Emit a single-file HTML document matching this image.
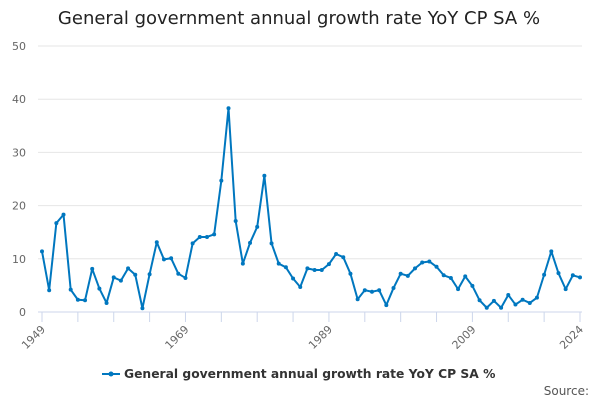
<!DOCTYPE html>
<html><head><meta charset="utf-8"><style>
body{margin:0;background:#fff;font-family:"DejaVu Sans",sans-serif}
svg text{font-family:"DejaVu Sans",sans-serif}
</style></head><body>
<svg width="600" height="400" id="c">
<text x="299" y="24" text-anchor="middle" font-size="18" fill="#222">General government annual growth rate YoY CP SA %</text>
<g id="grid"></g><g id="xax"></g><g id="ser"></g>
<g>
<line x1="102" y1="374" x2="120" y2="374" stroke="#0077bf" stroke-width="2"/><circle cx="111" cy="374" r="2.5" fill="#0077bf"/>
<text x="124" y="378" font-size="12.3" font-weight="bold" fill="#333">General government annual growth rate YoY CP SA %</text></g>
<text x="589" y="395" text-anchor="end" font-size="12" fill="#555">Source:</text>
</svg>
<script>
const years=[];for(let y=1949;y<=2024;y++)years.push(y);
const values=[11.4,4.1,16.7,18.3,4.2,2.3,2.2,8.1,4.4,1.7,6.5,5.9,8.2,7.0,0.7,7.1,13.1,9.9,10.1,7.2,6.4,12.9,14.1,14.1,14.6,24.7,38.3,17.1,9.1,13.0,16.0,25.6,12.9,9.1,8.4,6.3,4.7,8.2,7.9,7.9,9.0,10.9,10.3,7.2,2.4,4.1,3.8,4.1,1.3,4.5,7.2,6.8,8.2,9.3,9.5,8.5,6.9,6.4,4.3,6.7,4.9,2.2,0.8,2.1,0.8,3.2,1.4,2.3,1.7,2.7,7.0,11.4,7.3,4.3,6.9,6.5];
const yTicks=[0,10,20,30,40,50];
const xLabels=[1949,1969,1989,2009,2024];
const NS='http://www.w3.org/2000/svg';
const X=y=>42+(y-1949)*(580-42)/75, Y=v=>312-v*(312-46)/50;
function mk(t,a,p){const e=document.createElementNS(NS,t);for(const k in a)e.setAttribute(k,a[k]);p.appendChild(e);return e;}
const g=document.getElementById('grid'),xa=document.getElementById('xax'),s=document.getElementById('ser');
yTicks.forEach(v=>{const l=mk('line',{x1:38,x2:582,y1:Y(v),y2:Y(v),stroke:v?'#e6e6e6':'#ccd6eb'},g);


const t=mk('text',{x:26,y:Y(v)+4,'text-anchor':'end','font-size':11,fill:'#666'},g);t.textContent=v;

});
for(let y=1949;y<=2024;y+=5){const l=mk('line',{x1:X(y),x2:X(y),y1:312,y2:322,stroke:'#ccd6eb'},xa);

}
mk('line',{x1:X(2024),x2:X(2024),y1:312,y2:322,stroke:'#ccd6eb'},xa);
xLabels.forEach(y=>{const t=mk('text',{x:X(y)+4,y:330,'text-anchor':'end','font-size':11,fill:'#666',transform:`rotate(-45 ${X(y)+4} 330)`},xa);t.textContent=y;

});
const p=mk('polyline',{points:values.map((v,i)=>X(years[i])+','+Y(v)).join(' '),fill:'none',stroke:'#0077bf','stroke-width':2,'stroke-linejoin':'round'},s);


values.forEach((v,i)=>{const c=mk('circle',{cx:X(years[i]),cy:Y(v),r:2,fill:'#0077bf'},s);

});
</script>
</body></html>
